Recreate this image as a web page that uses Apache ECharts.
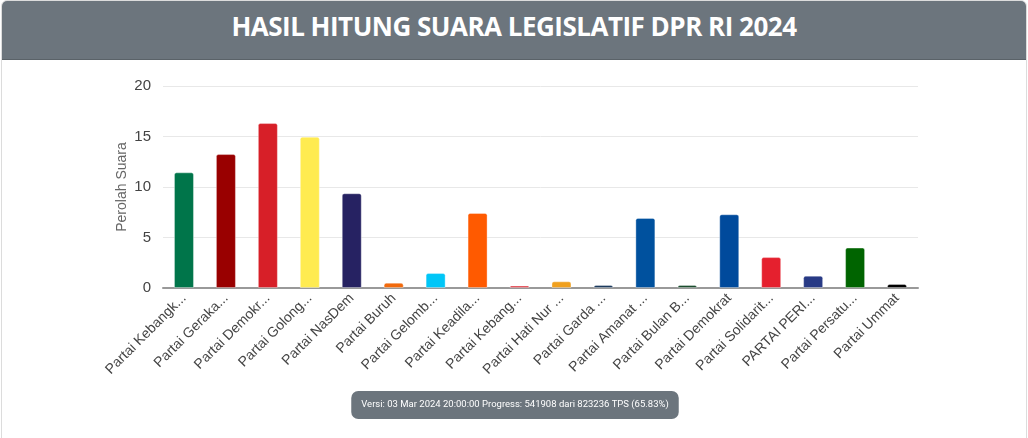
<!DOCTYPE html>
<html>
<head>
<meta charset="utf-8">
<script src="https://cdn.jsdelivr.net/npm/echarts@6/dist/echarts.min.js"></script>
<style>
  html, body { margin: 0; padding: 0; background: #fff; }
  .card {
    width: 1026px; height: 460px;
    border: 1px solid #dcdcdc; border-radius: 6px;
    overflow: hidden; box-sizing: border-box; margin-left: 1px;
  }
  .card-header {
    height: 58px; line-height: 50px;
    background: #6c757d; color: #fff;
    text-align: center; font-family: "Open Sans", sans-serif;
    font-weight: 700; font-size: 26px; letter-spacing: -0.5px;
    border-bottom: 1px solid #5a6268;
  }
  #chart { width: 1028px; height: 379px; margin-left: -1px; }
</style>
</head>
<body>
<div class="card">
  <div class="card-header">HASIL HITUNG SUARA LEGISLATIF DPR RI 2024</div>
  <div id="chart"></div>
</div>
<script>
const partai = [
  'Partai Kebangk...', 'Partai Geraka...', 'Partai Demokr...', 'Partai Golong...',
  'Partai NasDem', 'Partai Buruh', 'Partai Gelomb...', 'Partai Keadila...',
  'Partai Kebang...', 'Partai Hati Nur ...', 'Partai Garda ...', 'Partai Amanat ...',
  'Partai Bulan B...', 'Partai Demokrat', 'Partai Solidarit...', 'PARTAI PERI...',
  'Partai Persatu...', 'Partai Ummat'
]
const perolehan = [11.45, 13.26, 16.33, 14.98, 9.38, 0.53, 1.48, 7.43, 0.24, 0.66,
  0.3, 6.94, 0.3, 7.3, 3.06, 1.22, 4.0, 0.4]
const warna = ['#00754a', '#990000', '#d71f28', '#ffeb50', '#262262', '#f26a0d', '#00c6f7',
  '#ff5a00', '#e0323c', '#f0a01e', '#1c3a5e', '#00519e', '#1b4d2e', '#004a9c', '#e5202e',
  '#283a85', '#006400', '#000000']
const yTicks = [0, 5, 10, 15, 20]
const keterangan = 'Versi: 03 Mar 2024 20:00:00 Progress: 541908 dari 823236 TPS (65.83%)'

const chart = echarts.init(document.getElementById('chart'))

const option = {
  animation: false,
  backgroundColor: '#fff',
  grid: { left: 162, right: 111, top: 26, bottom: 151 },
  xAxis: {
    type: 'category',
    data: partai,
    axisLine: { lineStyle: { color: '#999', width: 2 } },
    axisTick: { show: false },
    axisLabel: {
      rotate: 45, interval: 0, color: '#444', fontSize: 14,
      fontFamily: 'Arial, "Liberation Sans", sans-serif', margin: 8
    }
  },
  yAxis: {
    type: 'value',
    min: yTicks[0], max: yTicks[yTicks.length - 1], interval: 5,
    name: 'Perolah Suara',
    nameLocation: 'middle', nameGap: 34,
    nameMoveOverlap: false,
    nameTextStyle: { color: '#666', fontSize: 14, fontFamily: 'Arial, "Liberation Sans", sans-serif' },
    axisLine: { show: false },
    axisTick: { show: false },
    axisLabel: { color: '#444', fontSize: 15, margin: 12, fontFamily: 'Arial, "Liberation Sans", sans-serif' },
    splitLine: { lineStyle: { color: '#e8e8e8' } }
  },
  series: [{
    type: 'bar',
    barWidth: 20,
    data: perolehan.map((v, i) => ({
      value: v,
      itemStyle: { color: warna[i] }
    })),
    itemStyle: { borderRadius: [2, 2, 0, 0], borderColor: 'rgba(255,255,255,0.35)', borderWidth: 1 }
  }],
  title: {
    text: keterangan,
    left: 'center', top: 331,
    backgroundColor: '#6c757d',
    borderRadius: 7,
    padding: [9, 10, 9, 10],
    textStyle: { color: '#fff', fontSize: 9.5, fontWeight: 'normal', fontFamily: 'Roboto, sans-serif' }
  }
}

chart.setOption(option)
</script>
</body>
</html>
